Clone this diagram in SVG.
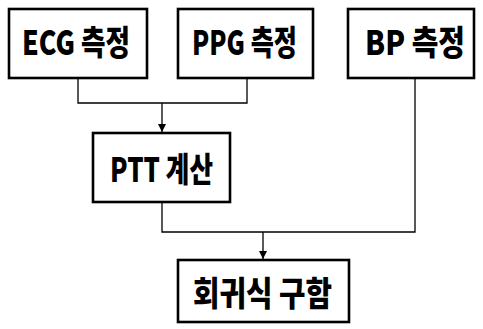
<svg xmlns="http://www.w3.org/2000/svg" width="483" height="329" viewBox="0 0 483 329">
<defs>
<style>
.box{fill:#fff;stroke:#000;stroke-width:2.6}
.lbl{font-family:"Noto Sans CJK KR","Liberation Sans",sans-serif;font-weight:900;font-size:34px;fill:#000;text-anchor:middle}
.wire{fill:none;stroke:#000;stroke-width:1.3}
</style>
<marker id="arr" viewBox="0 0 10 10" refX="10" refY="5" markerWidth="8" markerHeight="8" markerUnits="userSpaceOnUse" orient="auto">
<path d="M0,0 L10,5 L0,10 z" fill="#000"/>
</marker>
</defs>
<rect width="483" height="329" fill="#fff"/>
<g id="connectors">
<path class="wire" d="M78,78 V103 H247 V78"/>
<path class="wire" d="M162,103 V132" marker-end="url(#arr)"/>
<path class="wire" d="M162,202 V232 H415 V78"/>
<path class="wire" d="M263,232 V259" marker-end="url(#arr)"/>
</g>
<g id="ecg">
<rect class="box" x="9" y="9" width="138" height="69"/>
<text class="lbl" x="76" y="55" textLength="108" lengthAdjust="spacingAndGlyphs">ECG 측정</text>
</g>
<g id="ppg">
<rect class="box" x="178" y="9" width="135" height="69"/>
<text class="lbl" x="244.5" y="55" textLength="105" lengthAdjust="spacingAndGlyphs">PPG 측정</text>
</g>
<g id="bp">
<rect class="box" x="348" y="9" width="126" height="69"/>
<text class="lbl" x="415" y="55" textLength="100" lengthAdjust="spacingAndGlyphs">BP 측정</text>
</g>
<g id="ptt">
<rect class="box" x="93" y="133" width="137" height="69"/>
<text class="lbl" x="161.5" y="182" textLength="103" lengthAdjust="spacingAndGlyphs">PTT 계산</text>
</g>
<g id="regression">
<rect class="box" x="178" y="260" width="171" height="62"/>
<text class="lbl" x="262.5" y="306" textLength="139" lengthAdjust="spacingAndGlyphs">회귀식 구함</text>
</g>
</svg>
